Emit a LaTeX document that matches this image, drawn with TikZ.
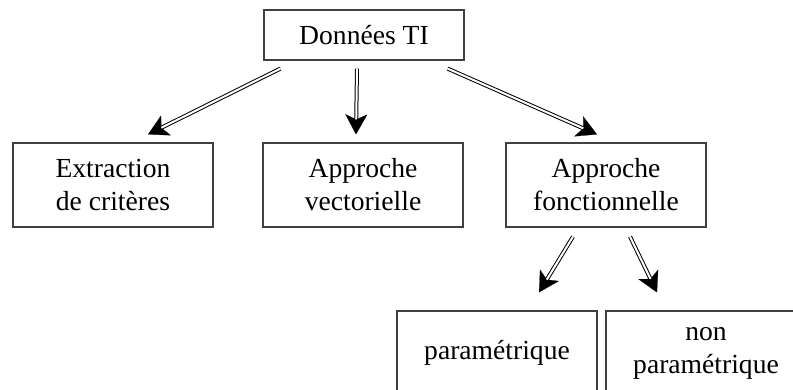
\documentclass[tikz,border=0pt]{standalone}
\usepackage{fontspec}
\setmainfont{Liberation Serif}
\usepackage{tikz}
\usetikzlibrary{arrows.meta, positioning}

\begin{document}
\begin{tikzpicture}[
        x=0.5pt, y=-0.5pt,
        every node/.style={draw=black!75, line width=0.6pt, rectangle, minimum width=100pt, minimum height=42pt, align=center, inner sep=0pt, font=\fontsize{13.8}{16.5}\selectfont},
        arrow/.style={line width=2pt, -{Stealth[length=10pt, width=11pt, inset=2.5pt, line width=0.1pt]},
          postaction={draw=white, line width=1pt, -, shorten >=7.5pt}}
      ]
        \useasboundingbox (0,0) rectangle (793,390);

        % Top node
        \node (donnees) [minimum height=25pt] at (364,35) {Donn\'ees TI};

        % Second row
        \node (extraction) at (113,185) {Extraction\\de crit\`eres};
        \node (vectorielle) at (363,185) {Approche\\vectorielle};
        \node (fonctionnelle) at (606,185) {Approche\\fonctionnelle};

        % Third row
        \node (parametrique) at (497,353) {param\'etrique};
        \node (nonparametrique) at (706,353) {non\\param\'etrique};

        % Arrows
        \draw [arrow] ([xshift=8.5pt, yshift=-4pt]donnees.south west) -- ([xshift=17.5pt, yshift=4pt]extraction.north);
        \draw [arrow] ([xshift=-3.5pt, yshift=-4pt]donnees.south) -- ([xshift=-3.5pt, yshift=4pt]vectorielle.north);
        \draw [arrow] ([xshift=-8.5pt, yshift=-4pt]donnees.south east) -- ([xshift=-4.5pt, yshift=4pt]fonctionnelle.north);
        \draw [arrow] ([xshift=-16.5pt, yshift=-4.5pt]fonctionnelle.south) -- ([xshift=21pt, yshift=9pt]parametrique.north);
        \draw [arrow] ([xshift=12pt, yshift=-4.5pt]fonctionnelle.south) -- ([xshift=-24.5pt, yshift=9pt]nonparametrique.north);
      \end{tikzpicture}
\end{document}
